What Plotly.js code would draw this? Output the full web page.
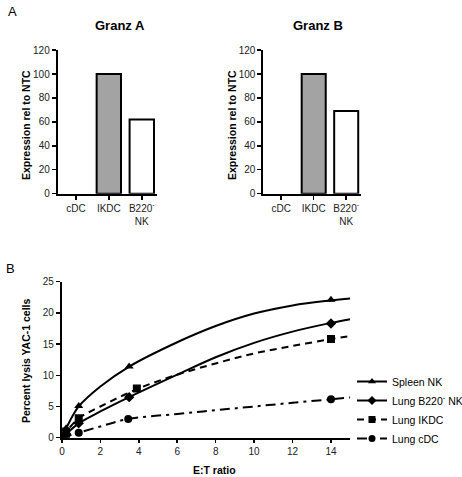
<!DOCTYPE html>
<html>
<head>
<meta charset="utf-8">
<script src="https://cdn.plot.ly/plotly-3.0.1.min.js"></script>
<style>html,body{margin:0;padding:0;background:#fff}#chart{width:462px;height:477px}</style>
</head>
<body>
<div id="chart"></div>
<script>
// ---- Panel A data ----
var barCategories = ["cDC", "IKDC", "B220<sup>-</sup><br>NK"];
var granzA = [0, 100, 62];
var granzB = [0, 100, 69];
var barTickVals = [0, 20, 40, 60, 80, 100, 120];

// ---- Panel B data (measured points) ----
var spleenNK_x = [0.22, 0.875, 3.5, 14];
var spleenNK_y = [1.5, 5.1, 11.4, 22.1];
var lungB220_x = [0.22, 0.875, 3.5, 14];
var lungB220_y = [0.6, 2.3, 6.5, 18.3];
var lungIKDC_x = [0.22, 0.875, 3.9, 14];
var lungIKDC_y = [1.0, 3.1, 7.9, 15.8];
var lungCDC_x = [0.22, 0.875, 3.45, 14];
var lungCDC_y = [0.2, 0.8, 3.0, 6.15];

// ---- Panel B fitted curves ----
var spleenCurve_x = [0, 0.22, 0.875, 2, 3.5, 6, 8, 10, 12, 14, 15];
var spleenCurve_y = [0, 1.5, 5.0, 8.2, 11.4, 15.3, 17.9, 19.9, 21.2, 22.0, 22.3];
var b220Curve_x = [0, 0.22, 0.875, 2, 3.5, 6, 8, 10, 12, 14, 15];
var b220Curve_y = [0, 0.6, 2.3, 4.2, 6.5, 10.1, 12.9, 15.2, 17.0, 18.4, 19.0];
var ikdcCurve_x = [0, 0.22, 0.875, 2, 4, 6, 8, 10, 12, 14, 15];
var ikdcCurve_y = [0.3, 1.0, 3.1, 5.0, 7.9, 10.1, 11.9, 13.5, 14.7, 15.8, 16.3];
var cdcCurve_x = [0, 0.22, 0.875, 2, 3.45, 6, 8, 10, 12, 14, 15];
var cdcCurve_y = [0, 0.2, 0.8, 1.8, 3.0, 3.8, 4.4, 5.0, 5.6, 6.15, 6.45];

var seriesNames = ["Spleen NK", "Lung B220<sup>-</sup> NK", "Lung IKDC", "Lung cDC"];
var lysisTicks = [0, 2, 4, 6, 8, 10, 12, 14];
var lysisYTicks = [0, 5, 10, 15, 20, 25];

var FONT = "Liberation Sans, Arial, sans-serif";
var barColors = ["#ffffff", "#a3a3a3", "#ffffff"];
var barLineWidths = [0, 2, 2];

var traces = [];
traces.push({type: "bar", x: barCategories, y: granzA, xaxis: "x", yaxis: "y", width: 0.74,
  marker: {color: barColors, line: {color: "#000", width: barLineWidths}}, showlegend: false, hoverinfo: "skip"});
traces.push({type: "bar", x: barCategories, y: granzB, xaxis: "x2", yaxis: "y2", width: 0.74,
  marker: {color: barColors, line: {color: "#000", width: barLineWidths}}, showlegend: false, hoverinfo: "skip"});

var curves = [
  {cx: spleenCurve_x, cy: spleenCurve_y, px: spleenNK_x, py: spleenNK_y, sym: "triangle-up", dash: "solid", size: 8},
  {cx: b220Curve_x, cy: b220Curve_y, px: lungB220_x, py: lungB220_y, sym: "diamond", dash: "solid", size: 8},
  {cx: ikdcCurve_x, cy: ikdcCurve_y, px: lungIKDC_x, py: lungIKDC_y, sym: "square", dash: "7px,5px", size: 8},
  {cx: cdcCurve_x, cy: cdcCurve_y, px: lungCDC_x, py: lungCDC_y, sym: "circle", dash: "10px,5px,3px,5px", size: 8}
];
curves.forEach(function (c, i) {
  traces.push({type: "scatter", mode: "lines", x: c.cx, y: c.cy, xaxis: "x3", yaxis: "y3",
    line: {color: "#000", width: 2, dash: c.dash, shape: "spline", smoothing: 1},
    showlegend: false, hoverinfo: "skip"});
  traces.push({type: "scatter", mode: "markers", x: c.px, y: c.py, xaxis: "x3", yaxis: "y3",
    marker: {color: "#000", symbol: c.sym, size: c.size},
    showlegend: false, hoverinfo: "skip"});
  traces.push({type: "scatter", mode: "lines+markers", x: [null], y: [null], xaxis: "x3", yaxis: "y3",
    name: seriesNames[i], line: {color: "#000", width: 2, dash: c.dash},
    marker: {color: "#000", symbol: c.sym, size: 7}, showlegend: true});
});

var axBase = {showline: true, linecolor: "#000", linewidth: 2, ticks: "outside", ticklen: 4,
  tickwidth: 1.5, tickcolor: "#000", showgrid: false, zeroline: false, automargin: false,
  tickfont: {family: FONT, size: 10, color: "#222"}};
function ax(o) { return Object.assign({}, axBase, o); }

var layout = {
  width: 462, height: 477,
  margin: {l: 0, r: 0, t: 0, b: 0, autoexpand: false},
  paper_bgcolor: "#fff", plot_bgcolor: "rgba(0,0,0,0)",
  font: {family: FONT, color: "#000"},
  bargap: 0.26,
  xaxis: ax({domain: [0.125, 0.339], anchor: "y", range: [-0.55, 2.45], type: "category", ticklen: 4}),
  yaxis: ax({domain: [0.594, 0.895], anchor: "x", range: [0, 120], tickvals: barTickVals}),
  xaxis2: ax({domain: [0.570, 0.781], anchor: "y2", range: [-0.55, 2.45], type: "category"}),
  yaxis2: ax({domain: [0.594, 0.895], anchor: "x2", range: [0, 120], tickvals: barTickVals}),
  xaxis3: ax({domain: [0.134, 0.758], anchor: "y3", range: [0, 15], tickvals: lysisTicks, ticklen: 3}),
  yaxis3: ax({domain: [0.0824, 0.4094], anchor: "x3", range: [0, 25], tickvals: lysisYTicks}),
  legend: {x: 352 / 462, y: 1 - 367 / 477, xanchor: "left", yanchor: "top",
    font: {family: FONT, size: 10.5, color: "#000"}, bgcolor: "rgba(0,0,0,0)", tracegroupgap: 0,
    itemwidth: 30},
  annotations: [
    {text: "A", x: 12 / 462, y: 1 - 12 / 477, xref: "paper", yref: "paper", showarrow: false,
      font: {family: FONT, size: 13}, xanchor: "center", yanchor: "middle"},
    {text: "B", x: 10 / 462, y: 1 - 268 / 477, xref: "paper", yref: "paper", showarrow: false,
      font: {family: FONT, size: 13}, xanchor: "center", yanchor: "middle"},
    {text: "<b>Granz A</b>", x: 120 / 462, y: 1 - 26 / 477, xref: "paper", yref: "paper", showarrow: false,
      font: {family: FONT, size: 13}, xanchor: "center", yanchor: "middle"},
    {text: "<b>Granz B</b>", x: 318 / 462, y: 1 - 26 / 477, xref: "paper", yref: "paper", showarrow: false,
      font: {family: FONT, size: 13}, xanchor: "center", yanchor: "middle"},
    {text: "<b>Expression rel to NTC</b>", x: 26 / 462, y: 1 - 125 / 477, xref: "paper", yref: "paper",
      showarrow: false, textangle: -90, font: {family: FONT, size: 10.5}, xanchor: "center", yanchor: "middle"},
    {text: "<b>Expression rel to NTC</b>", x: 232 / 462, y: 1 - 125 / 477, xref: "paper", yref: "paper",
      showarrow: false, textangle: -90, font: {family: FONT, size: 10.5}, xanchor: "center", yanchor: "middle"},
    {text: "<b>Percent lysis YAC-1 cells</b>", x: 26 / 462, y: 1 - 361 / 477, xref: "paper", yref: "paper",
      showarrow: false, textangle: -90, font: {family: FONT, size: 10.5}, xanchor: "center", yanchor: "middle"},
    {text: "<b>E:T ratio</b>", x: 214 / 462, y: 1 - 470 / 477, xref: "paper", yref: "paper",
      showarrow: false, font: {family: FONT, size: 10.5}, xanchor: "center", yanchor: "middle"}
  ]
};

Plotly.newPlot("chart", traces, layout, {displayModeBar: false, staticPlot: true});
</script>
</body>
</html>
